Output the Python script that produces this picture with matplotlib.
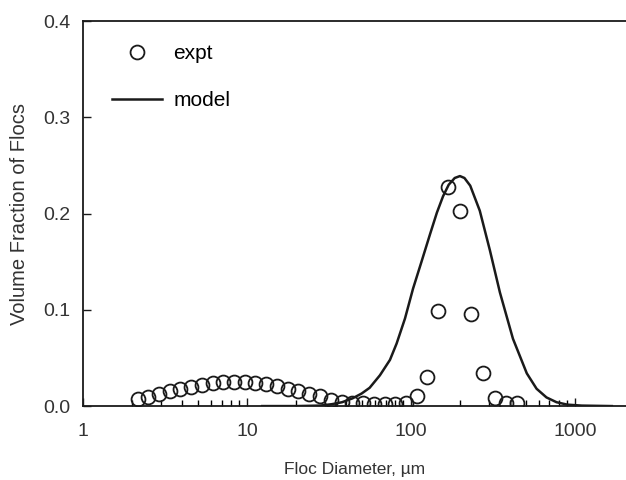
import matplotlib
matplotlib.use('Agg')
import matplotlib.pyplot as plt
from matplotlib.ticker import NullFormatter, FixedLocator


plt.rcParams['font.family'] = ['Liberation Sans', 'DejaVu Sans']

# experimental floc size distribution (diameter in um, volume fraction)
expt_d = [2.15, 2.50, 2.90, 3.38, 3.93, 4.57, 5.31, 6.17, 7.18, 8.33,
          9.68, 11.2, 13.1, 15.2, 17.7, 20.6, 24.0, 27.9, 32.5, 37.8,
          43.9, 51.0, 59.3, 69.2, 80.5, 93.8, 109, 126, 146, 168,
          199, 232, 276, 325, 378, 443]
expt_v = [0.007, 0.0097, 0.013, 0.0155, 0.018, 0.020, 0.022, 0.024, 0.025, 0.025,
          0.025, 0.0245, 0.023, 0.021, 0.018, 0.0155, 0.013, 0.010, 0.006, 0.004,
          0.003, 0.003, 0.0025, 0.0025, 0.0025, 0.003, 0.010, 0.030, 0.099, 0.228,
          0.203, 0.096, 0.034, 0.008, 0.003, 0.003]

# model prediction
model_d = [12.4, 20, 28, 33, 38, 44, 50, 56, 64.7, 74.5, 81.8, 92, 103, 116,
           131, 144, 157, 170, 185, 199, 212, 230, 263, 303, 349, 419, 509,
           584, 671, 773, 900, 1100, 1680]
model_v = [0, 0, 0.0005, 0.002, 0.004, 0.008, 0.013, 0.019, 0.032, 0.048,
           0.065, 0.091, 0.122, 0.150, 0.179, 0.201, 0.218, 0.230, 0.237, 0.239,
           0.237, 0.229, 0.203, 0.162, 0.118, 0.070, 0.034, 0.018, 0.009, 0.004,
           0.0015, 0.0005, 0]

x_major = [1, 10, 100, 1000]
x_minor = [m * d for d in (1, 10, 100) for m in range(2, 10)]
y_major = [0.0, 0.1, 0.2, 0.3, 0.4]

fig = plt.figure(figsize=(6.26, 4.8), dpi=100)
ax = fig.add_axes([0.1326, 0.154, 0.8674, 0.802])

ax.plot(expt_d, expt_v, 'o', ms=10, mfc='none', mec='#1a1a1a', mew=1.3,
        label='expt')
ax.plot(model_d, model_v, '-', color='#1a1a1a', lw=1.8, label='model')

ax.set_xscale('log')
ax.set_xlim(1, 2050)
ax.set_ylim(0, 0.4)
ax.yaxis.set_major_locator(FixedLocator(y_major))
ax.set_yticklabels(['%.1f' % v for v in y_major])
ax.xaxis.set_major_locator(FixedLocator(x_major))
ax.set_xticklabels([str(v) for v in x_major])
ax.xaxis.set_minor_locator(FixedLocator(x_minor))
ax.xaxis.set_minor_formatter(NullFormatter())

ax.spines['right'].set_visible(False)
for s in ['left', 'bottom', 'top']:
    ax.spines[s].set_linewidth(1.3)
    ax.spines[s].set_color('#1a1a1a')

ax.tick_params(which='major', direction='in', length=6, width=1.0,
               labelsize=14, colors='#1a1a1a', labelcolor='#333333')
ax.tick_params(axis='y', pad=9)
ax.tick_params(axis='x', pad=12)
ax.tick_params(which='minor', direction='in', length=4, width=1.0)
ax.tick_params(top=False, right=False, which='both')

ax.set_xlabel('Floc Diameter, \u00b5m', fontsize=12.5, color='#333333', labelpad=16)
ax.set_ylabel('Volume Fraction of Flocs', fontsize=14.5, color='#333333', labelpad=10)

ax.legend(loc='upper left', bbox_to_anchor=(0.0534, 0.94), frameon=False,
          fontsize=15, handlelength=2.4, handletextpad=0.55, labelspacing=1.35,
          numpoints=1, borderpad=0, borderaxespad=0)

fig.savefig('out.png', dpi=100)
